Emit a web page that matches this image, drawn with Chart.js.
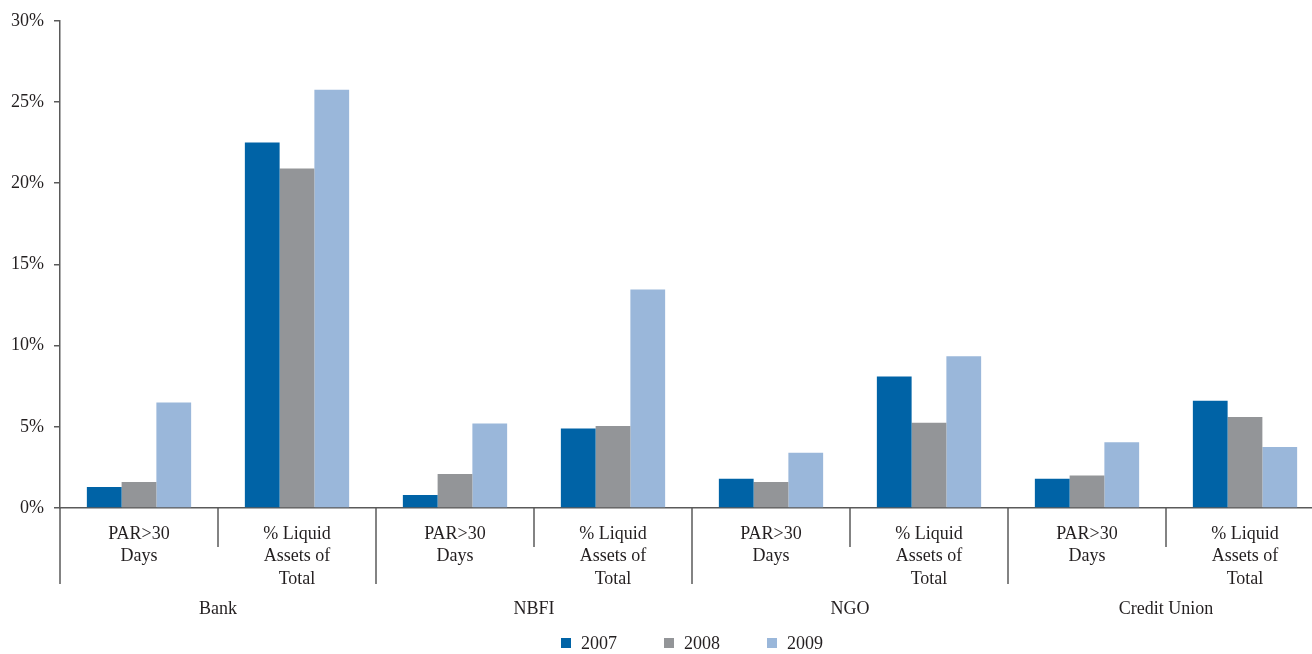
<!DOCTYPE html>
<html>
<head>
<meta charset="utf-8">
<script src="https://cdn.jsdelivr.net/npm/chart.js@4/dist/chart.umd.min.js"></script>
<style>
  html, body { margin: 0; padding: 0; overflow: hidden; background: #fff; }
  .chart { position: relative; width: 1340px; height: 654px; }
  .legend {
    position: absolute;
    top: 631px;
    display: flex;
    transform: translateX(-50%);
    font: 18px "Liberation Serif", "Times New Roman", serif;
    color: #231f20;
    line-height: 24px;
    white-space: nowrap;
  }
  .legend__item { display: flex; align-items: center; margin-right: 47px; }
  .legend__item:last-child { margin-right: 0; }
  .legend__box { width: 10px; height: 10px; margin-right: 10px; }
</style>
</head>
<body>
<div class="chart">
  <canvas id="chart"></canvas>
  <div class="legend"></div>
</div>
<script>
const groups = ['Bank', 'NBFI', 'NGO', 'Credit Union']
const categories = [
  ['PAR>30', 'Days'], ['% Liquid', 'Assets of', 'Total'],
  ['PAR>30', 'Days'], ['% Liquid', 'Assets of', 'Total'],
  ['PAR>30', 'Days'], ['% Liquid', 'Assets of', 'Total'],
  ['PAR>30', 'Days'], ['% Liquid', 'Assets of', 'Total'],
]
const years = ['2007', '2008', '2009']
const values2007 = [1.3, 22.5, 0.8, 4.9, 1.8, 8.1, 1.8, 6.6]
const values2008 = [1.6, 20.9, 2.1, 5.05, 1.6, 5.25, 2.0, 5.6]
const values2009 = [6.5, 25.75, 5.2, 13.45, 3.4, 9.35, 4.05, 3.75]
const yTicks = [0, 5, 10, 15, 20, 25, 30]

const colors = ['#0063a6', '#939598', '#9ab7da']
const axisColor = '#5a5a5a'
const textColor = '#231f20'
const font = { family: '"Liberation Serif", "Times New Roman", serif', size: 18 }

// separators below the x axis, long ones between groups
const separators = {
  id: 'separators',
  afterDraw(chart) {
    const { ctx, chartArea } = chart
    const x = chart.scales.x
    const n = categories.length
    const half = (x.getPixelForValue(1) - x.getPixelForValue(0)) / 2
    ctx.save()
    ctx.strokeStyle = axisColor
    ctx.lineWidth = 1.5
    for (let i = 0; i <= n; i++) {
      const px = i < n ? x.getPixelForValue(i) - half : x.getPixelForValue(n - 1) + half
      const len = i % 2 === 0 ? 76 : 39
      ctx.beginPath()
      ctx.moveTo(px, chartArea.bottom)
      ctx.lineTo(px, chartArea.bottom + len)
      ctx.stroke()
    }
    ctx.restore()
  },
}

// legend built from the datasets, centred under the plot area
const htmlLegend = {
  id: 'htmlLegend',
  afterUpdate(chart) {
    const legend = document.querySelector('.legend')
    legend.innerHTML = ''
    for (const ds of chart.data.datasets) {
      const item = document.createElement('div')
      item.classList.add('legend__item')
      const box = document.createElement('span')
      box.classList.add('legend__box')
      box.style.background = ds.backgroundColor
      const label = document.createElement('span')
      label.textContent = ds.label
      item.append(box, label)
      legend.append(item)
    }
    const { left, right } = chart.chartArea
    legend.style.left = (left + right) / 2 + 'px'
  },
}

const datasets = [values2007, values2008, values2009].map((data, i) => ({
  label: years[i],
  data: data,
  backgroundColor: colors[i],
  borderWidth: 0,
  categoryPercentage: 0.66,
  barPercentage: 1.0,
}))

new Chart(document.getElementById('chart'), {
  type: 'bar',
  data: { labels: categories, datasets: datasets },
  plugins: [separators, htmlLegend],
  options: {
    responsive: true,
    maintainAspectRatio: false,
    animation: false,
    layout: { padding: { left: 0, right: 16, top: 20, bottom: 29 } },
    plugins: {
      tooltip: { enabled: false },
      legend: { display: false },
    },
    scales: {
      x: {
        weight: 0,
        grid: { display: false },
        border: { display: true, color: axisColor, width: 1.5 },
        ticks: {
          color: textColor,
          font: { ...font, lineHeight: 1.25 },
          padding: 7,
          maxRotation: 0,
          autoSkip: false,
        },
        afterFit(scale) { scale.height = 82 },
      },
      x2: {
        type: 'category',
        position: 'bottom',
        weight: 1,
        labels: groups,
        grid: { display: false },
        border: { display: false },
        ticks: {
          color: textColor,
          font: { ...font, lineHeight: 1.25 },
          padding: 0,
          maxRotation: 0,
        },
        afterFit(scale) { scale.height = 35 },
      },
      y: {
        min: 0,
        max: 30,
        afterBuildTicks(scale) { scale.ticks = yTicks.map(v => ({ value: v })) },
        grid: { drawOnChartArea: false, drawTicks: true, tickLength: 6, color: axisColor, lineWidth: 1.5 },
        border: { display: true, color: axisColor, width: 1.5 },
        ticks: {
          color: textColor,
          font: font,
          padding: 10,
          callback: v => v + '%',
        },
        afterFit(scale) { scale.width = 60 },
      },
    },
  },
})
</script>
</body>
</html>
